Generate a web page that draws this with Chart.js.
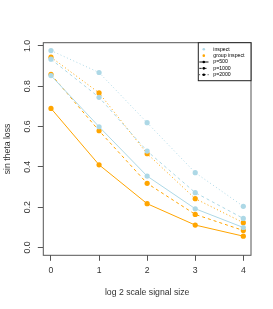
<!DOCTYPE html>
<html>
<head>
<meta charset="utf-8">
<script src="https://cdn.jsdelivr.net/npm/chart.js@4/dist/chart.umd.min.js"></script>
<style>
  html, body { margin: 0; padding: 0; background: #fff; }
</style>
</head>
<body>
<canvas id="lossChart" width="273" height="309"></canvas>
<script>
const $ = (id) => document.getElementById(id);

// log2 signal size on the x axis
const signalLog2 = [0, 1, 2, 3, 4];
const xTicks = [0, 1, 2, 3, 4];
const yTicks = [0, 0.2, 0.4, 0.6, 0.8, 1.0];

// sin theta loss
const inspect500 = [0.853, 0.599, 0.354, 0.192, 0.099];
const inspect1000 = [0.934, 0.745, 0.478, 0.272, 0.144];
const inspect2000 = [0.977, 0.868, 0.619, 0.371, 0.204];
const group500 = [0.690, 0.410, 0.217, 0.111, 0.056];
const group1000 = [0.859, 0.579, 0.318, 0.164, 0.084];
const group2000 = [0.944, 0.767, 0.465, 0.242, 0.123];

const methodNames = ['inspect', 'group inspect'];
const sizeNames = ['p=500', 'p=1000', 'p=2000'];

const BLUE = '#ADD8E6';
const ORANGE = '#FFA500';
const AXIS = '#555';
const FONT = '"Liberation Sans", Arial, sans-serif';
const dashes = [[], [3, 3], [1, 2.5]];

const toPoints = (vals) => signalLog2.map((x, i) => ({ x, y: vals[i] }));

function series(vals, color, dash) {
    return {
        data: toPoints(vals),
        borderColor: color,
        backgroundColor: color,
        borderWidth: 1,
        borderDash: dash,
        pointRadius: 2.6,
        pointBorderWidth: 0,
        pointBackgroundColor: color,
        tension: 0
    };
}

// rotated y tick labels, R style box and the legend
const rStyle = {
    id: 'rStyle',
    beforeDatasetsDraw(chart) {
        const { ctx, chartArea: a } = chart;
        ctx.save();
        ctx.strokeStyle = AXIS;
        ctx.lineWidth = 1;
        ctx.strokeRect(a.left, a.top, a.right - a.left, a.bottom - a.top);
        ctx.restore();
    },
    afterDraw(chart) {
        const { ctx, chartArea: a } = chart;
        const yScale = chart.scales.y;
        ctx.save();
        ctx.fillStyle = '#333';
        ctx.font = '8.7px ' + FONT;
        ctx.textAlign = 'center';
        ctx.textBaseline = 'middle';
        yTicks.forEach(v => {
            ctx.save();
            ctx.translate(27.3, yScale.getPixelForValue(v));
            ctx.rotate(-Math.PI / 2);
            ctx.fillText(v.toFixed(1), 0, 0);
            ctx.restore();
        });
        ctx.restore();

        // legend
        const lx = 198.3, ly = a.top, lw = a.right - lx, lh = 38;
        ctx.save();
        ctx.fillStyle = '#fff';
        ctx.fillRect(lx, ly, lw, lh);
        ctx.strokeStyle = '#222';
        ctx.lineWidth = 1;
        ctx.strokeRect(lx, ly, lw, lh);
        ctx.font = '5.2px ' + FONT;
        ctx.textAlign = 'left';
        ctx.textBaseline = 'middle';
        const rowY = (i) => ly + 6.6 + i * 6.35;
        const symX = 203.8;
        [BLUE, ORANGE].forEach((c, i) => {
            ctx.fillStyle = c;
            ctx.beginPath();
            ctx.arc(symX, rowY(i), 1.3, 0, Math.PI * 2);
            ctx.fill();
            ctx.fillStyle = '#000';
            ctx.fillText(methodNames[i], 213.3, rowY(i));
        });
        sizeNames.forEach((name, j) => {
            const y = rowY(j + 2);
            ctx.strokeStyle = '#000';
            ctx.lineWidth = 0.9;
            ctx.setLineDash(dashes[j].map(d => d * 0.8));
            ctx.beginPath();
            ctx.moveTo(199.3, y);
            ctx.lineTo(208.5, y);
            ctx.stroke();
            ctx.setLineDash([]);
            ctx.fillStyle = '#000';
            ctx.beginPath();
            ctx.arc(symX, y, 1.3, 0, Math.PI * 2);
            ctx.fill();
            ctx.fillText(name, 213.3, y);
        });
        ctx.restore();
    }
};

new Chart($('lossChart'), {
    type: 'line',
    data: {
        datasets: [
            series(inspect500, BLUE, dashes[0]),
            series(inspect1000, BLUE, dashes[1]),
            series(inspect2000, BLUE, dashes[2]),
            series(group500, ORANGE, dashes[0]),
            series(group1000, ORANGE, dashes[1]),
            series(group2000, ORANGE, dashes[2])
        ]
    },
    options: {
        responsive: false,
        animation: false,
        layout: { padding: { left: 0, right: 22, top: 42.7, bottom: 0 } },
        plugins: { legend: { display: false }, tooltip: { enabled: false } },
        scales: {
            x: {
                type: 'linear',
                min: -0.16,
                max: 4.16,
                afterBuildTicks: (s) => { s.ticks = xTicks.map(v => ({ value: v })); },
                afterFit: (s) => { s.height = 53.7; },
                border: { display: false },
                grid: { drawOnChartArea: false, drawTicks: true, tickLength: 5.5, color: AXIS, lineWidth: 1 },
                ticks: { color: '#333', font: { family: FONT, size: 8.7 }, padding: 5, maxRotation: 0 },
                title: {
                    display: true,
                    text: 'log 2 scale signal size',
                    color: '#333',
                    font: { family: FONT, size: 8.7 },
                    padding: { top: 0, bottom: 11 }
                }
            },
            y: {
                type: 'linear',
                min: -0.039,
                max: 1.016,
                afterBuildTicks: (s) => { s.ticks = yTicks.map(v => ({ value: v })); },
                afterFit: (s) => { s.width = 43.3; },
                border: { display: false },
                grid: { drawOnChartArea: false, drawTicks: true, tickLength: 5.5, color: AXIS, lineWidth: 1 },
                ticks: { color: 'rgba(0,0,0,0)', font: { family: FONT, size: 8.7 } },
                title: {
                    display: true,
                    text: 'sin theta loss',
                    color: '#333',
                    font: { family: FONT, size: 8.7 },
                    padding: { top: 2, bottom: 0 }
                }
            }
        }
    },
    plugins: [rStyle]
});
</script>
</body>
</html>
